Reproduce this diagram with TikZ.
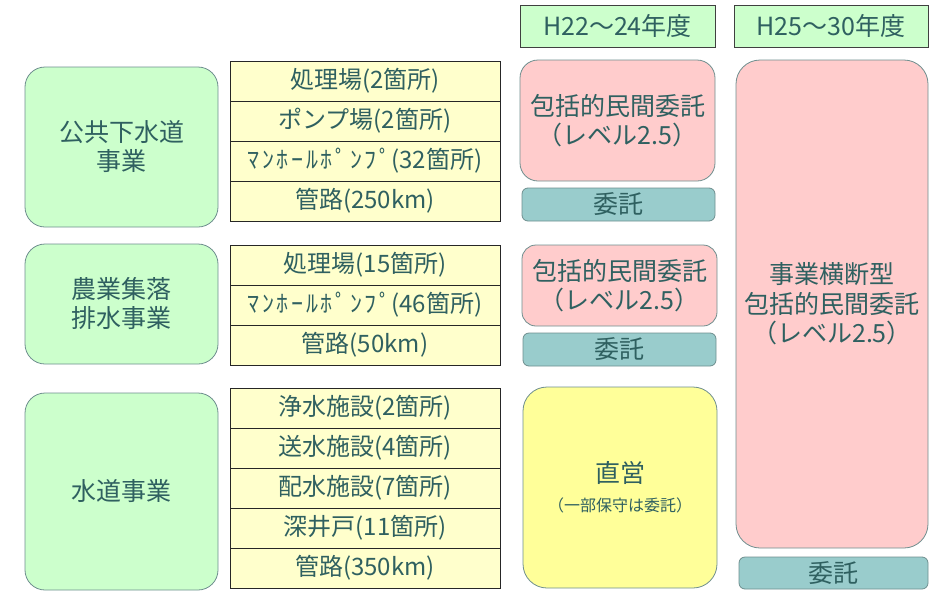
\documentclass[tikz,border=0pt]{standalone}
\usepackage{fontspec}
\setmainfont{Noto Sans CJK JP}
\usepackage{xcolor}
\usepackage{tikz}
\usetikzlibrary{positioning}
\usetikzlibrary{calc}

\definecolor{inkteal}{HTML}{2F6060}
\definecolor{edgeteal}{HTML}{6E8E8E}
\definecolor{palegreen}{HTML}{CCFFCC}
\definecolor{palepink}{HTML}{FFCCCC}
\definecolor{paleteal}{HTML}{99CCCC}
\definecolor{paleyellow}{HTML}{FFFFCC}
\definecolor{lemon}{HTML}{FFFF99}
\newcommand\widekana[1]{{\addfontfeature{LetterSpace=11}#1}}

\begin{document}
\begin{tikzpicture}[x=1pt,y=-1pt,line width=0.8pt,
  every node/.style={text=inkteal,inner sep=0pt,align=center,font=\fontsize{24}{29}\selectfont},
  business/.style={draw=edgeteal,fill=palegreen,rounded corners=20pt,minimum width=193pt,font=\fontsize{25}{29}\selectfont},
  cell/.style={draw=black!85,fill=paleyellow,minimum width=270pt,minimum height=40pt},
  period/.style={draw=black!75,fill=palegreen,minimum width=195pt,minimum height=42pt,font=\fontsize{25}{29}\selectfont},
  contract/.style={draw=edgeteal,fill=palepink,rounded corners=18pt,font=\fontsize{25}{29.5}\selectfont},
  outsource/.style={draw=edgeteal,fill=paleteal,rounded corners=6pt,minimum height=33pt,font=\fontsize{25}{29}\selectfont},
  direct/.style={draw=edgeteal,fill=lemon,rounded corners=24pt,font=\fontsize{25}{29}\selectfont}]
  \useasboundingbox (0,0) rectangle (929,592);
  % business types
  \node [business,minimum height=160pt] (Sewer) at (121.5,147) {公共下水道\\事業};
  \node [business,minimum height=120pt] (Rural) at (121.5,304) {農業集落\\排水事業};
  \node [business,minimum height=197pt] (Water) at (121.5,491.5) {水道事業};
  % facilities
  \node [cell] (SewerA) at (365,81) {処理場(2箇所)};
  \node [cell] (SewerB) at (365,121) {ポンプ場(2箇所)};
  \node [cell] (SewerC) at (365,161) {\widekana{ﾏﾝﾎｰﾙﾎﾟﾝﾌﾟ}(32箇所)};
  \node [cell] (SewerD) at (365,201) {管路(250km)};
  \node [cell] (RuralA) at (365,265) {処理場(15箇所)};
  \node [cell] (RuralB) at (365,305) {\widekana{ﾏﾝﾎｰﾙﾎﾟﾝﾌﾟ}(46箇所)};
  \node [cell] (RuralC) at (365,345) {管路(50km)};
  \node [cell] (WaterA) at (365,408) {浄水施設(2箇所)};
  \node [cell] (WaterB) at (365,448) {送水施設(4箇所)};
  \node [cell] (WaterC) at (365,488) {配水施設(7箇所)};
  \node [cell] (WaterD) at (365,528) {深井戸(11箇所)};
  \node [cell] (WaterE) at (365,568) {管路(350km)};
  % periods
  \node [period] (Early) at (617.5,26) {H22～24年度};
  \node [period,minimum width=194pt] (Late) at (831,26) {H25～30年度};
  \node [contract,minimum width=195pt,minimum height=121pt] (SewerPkg) at (617.5,120.5) {包括的民間委託\\（レベル2.5）};
  \node [outsource,minimum width=193pt] (SewerOut) at (618.5,204.5) {委託};
  \node [contract,rounded corners=14pt,minimum width=195pt,minimum height=81pt] (RuralPkg) at (619.5,285.5) {包括的民間委託\\（レベル2.5）};
  \node [outsource,minimum width=193pt] (RuralOut) at (619.5,349.5) {委託};
  \node [direct,minimum width=194pt,minimum height=201pt] (WaterSelf) at (620,487.5) {直営\\{\fontsize{16}{20}\selectfont （一部保守は委託）}};
  \node [contract,rounded corners=24pt,minimum width=192pt,minimum height=488pt] (CrossPkg) at (832,304) {事業横断型\\包括的民間委託\\（レベル2.5）};
  \node [outsource,minimum width=189pt,minimum height=32pt] (CrossOut) at (833.5,573) {委託};
\end{tikzpicture}
\end{document}
